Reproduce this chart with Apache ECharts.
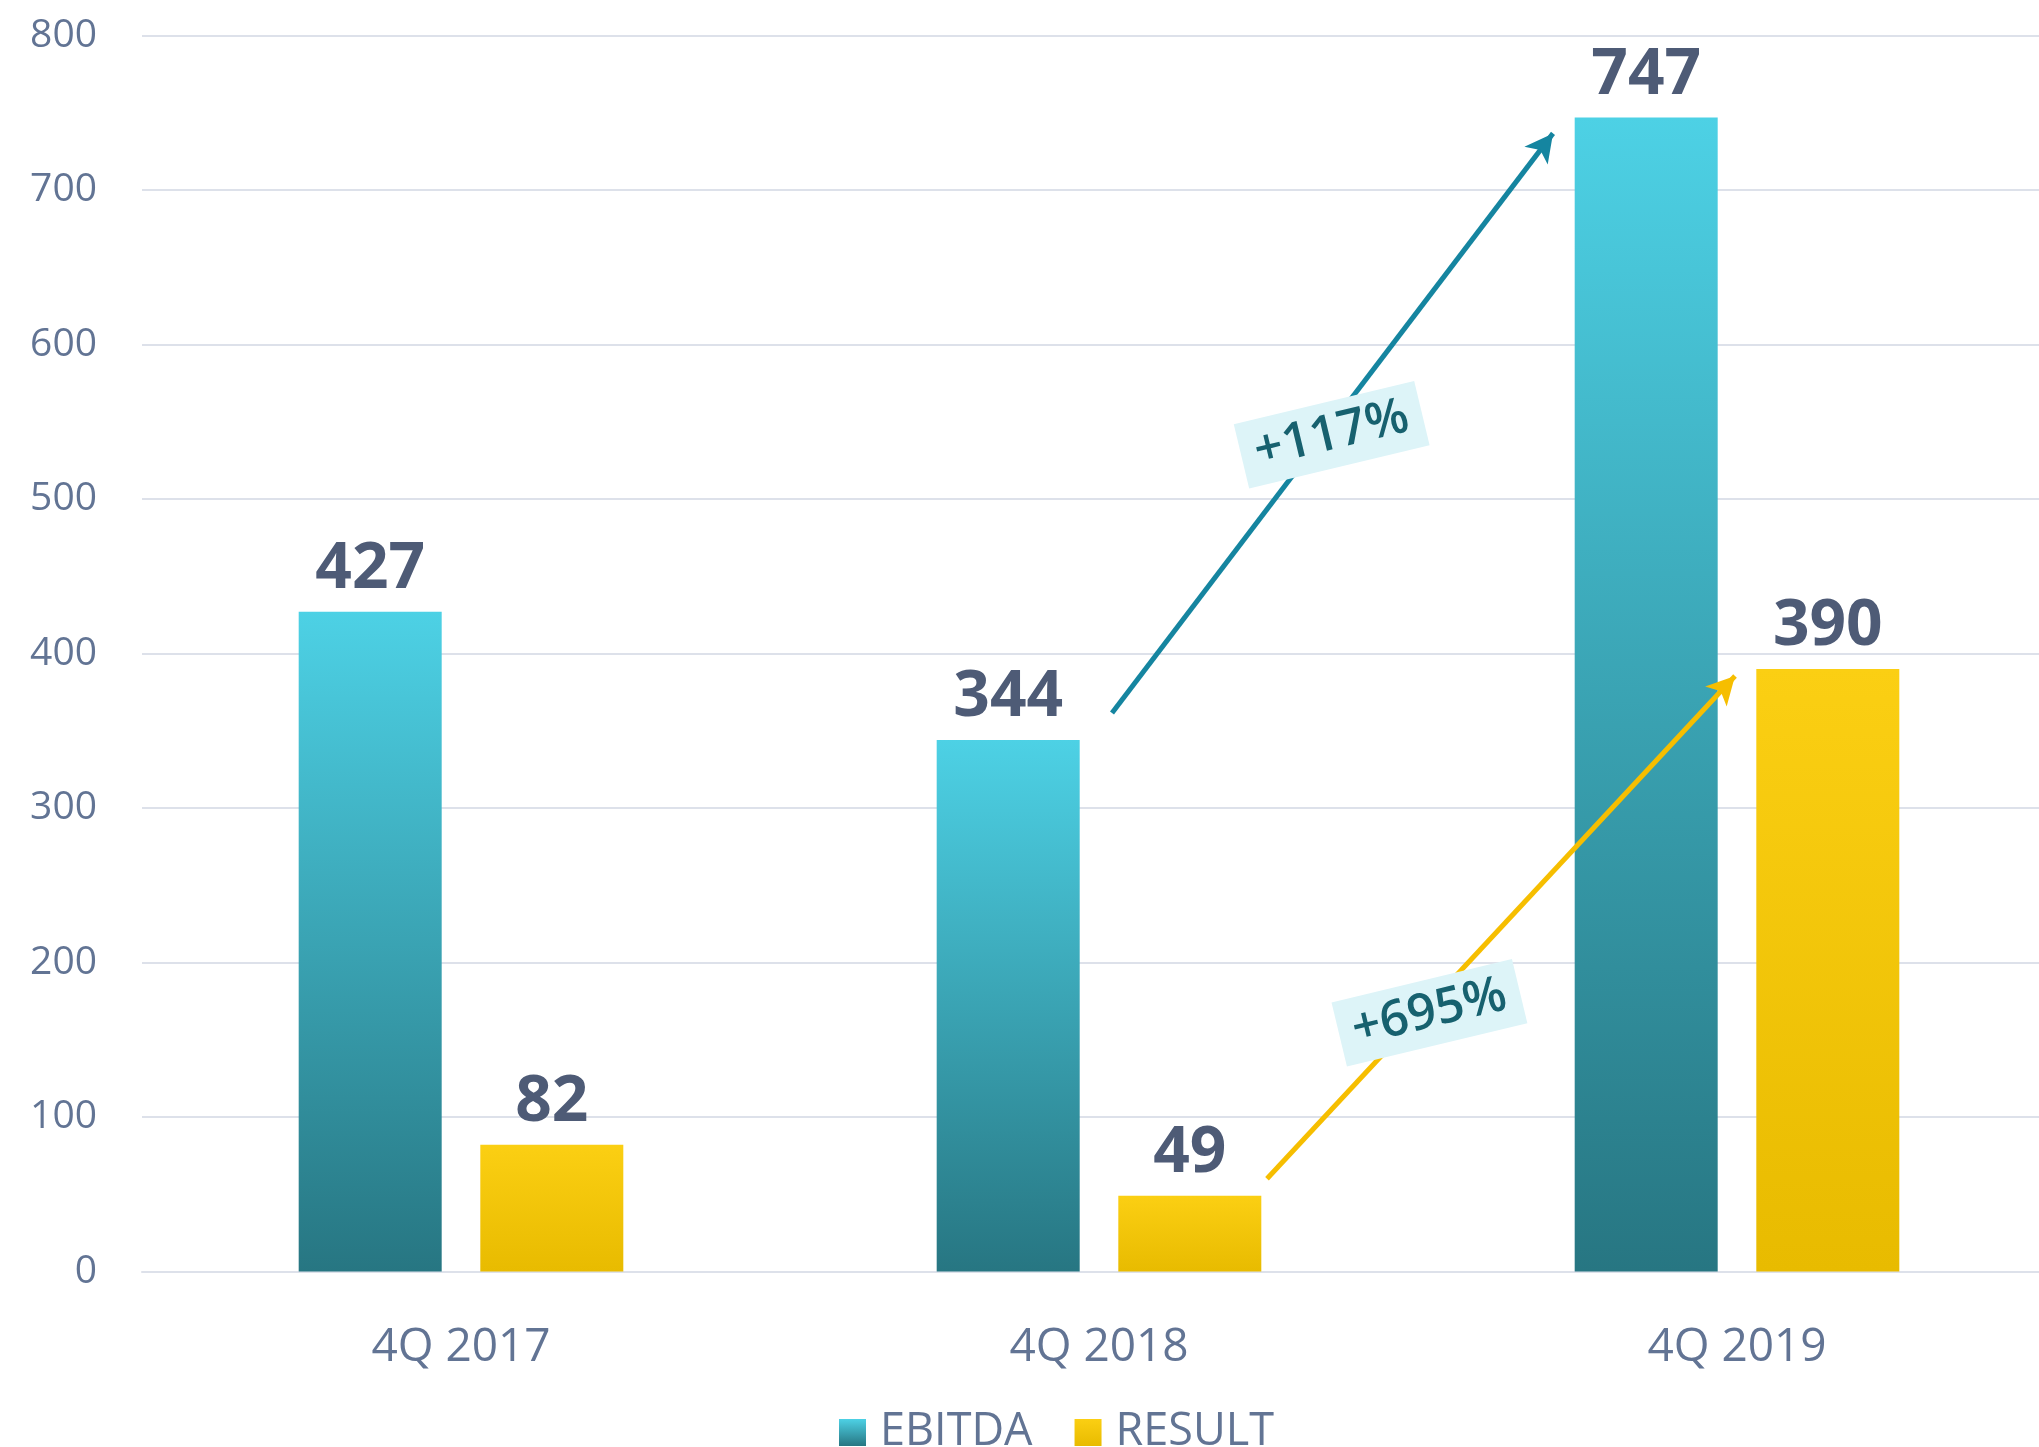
<!DOCTYPE html>
<html lang="en">
<head>
    <meta charset="UTF-8">
    <title>EBITDA / RESULT</title>
    <script src="https://cdn.jsdelivr.net/npm/echarts@6/dist/echarts.min.js"></script>
    <style>
        html, body { margin: 0; padding: 0; background: #fff; }
    </style>
</head>
<body>
<div id="main" style="width: 2039px;height:1447px;"></div>
<script>
    var categories = ['4Q 2017', '4Q 2018', '4Q 2019'];
    var ebitda = [427, 344, 747];
    var result = [82, 49, 390];
    var yTicks = [0, 100, 200, 300, 400, 500, 600, 700, 800];
    // growth arrows: [from category, to category, series name, label]
    var growth = [
        ['4Q 2018', '4Q 2019', 'EBITDA', '+117%'],
        ['4Q 2018', '4Q 2019', 'RESULT', '+695%']
    ];

    var labelColor = '#627494';
    var valueColor = '#4e5b76';
    var font = '"Open Sans", "Noto Sans", sans-serif';

    var myChart = echarts.init(document.getElementById('main'));

    function grad(top, bottom) {
        return new echarts.graphic.LinearGradient(0, 0, 0, 1, [
            {offset: 0, color: top},
            {offset: 1, color: bottom}
        ]);
    }

    var option = {
        animation: false,
        textStyle: {fontFamily: font},
        grid: {left: 142, top: 35.5, width: 1914, height: 1236, outerBoundsMode: 'none'},
        legend: {
            bottom: -13,
            left: 834,
            itemWidth: 27,
            itemHeight: 27,
            itemGap: 42,
            icon: 'rect',
            textStyle: {fontSize: 45, color: labelColor, fontFamily: font, padding: [6, 0, 0, 9]},
            data: ['EBITDA', 'RESULT']
        },
        xAxis: {
            type: 'category',
            data: categories,
            axisTick: {show: false},
            axisLine: {lineStyle: {color: '#dde1ea', width: 2}},
            axisLabel: {fontSize: 46, color: labelColor, margin: 53}
        },
        yAxis: {
            type: 'value',
            min: yTicks[0],
            max: yTicks[yTicks.length - 1],
            interval: 100,
            axisLine: {show: false},
            axisTick: {show: false},
            splitLine: {lineStyle: {color: '#dde1ea', width: 2}},
            axisLabel: {fontSize: 39, color: labelColor, margin: 45}
        },
        series: [
            {
                name: 'EBITDA',
                type: 'bar',
                data: ebitda,
                barWidth: 143,
                barGap: '27%',
                itemStyle: {color: grad('#4dd1e5', '#277682')},
                label: {
                    show: true, position: 'top', distance: 10,
                    fontSize: 64, fontWeight: 'bold', color: valueColor
                }
            },
            {
                name: 'RESULT',
                type: 'bar',
                data: result,
                barWidth: 143,
                itemStyle: {color: grad('#fbcf13', '#e8bb00')},
                label: {
                    show: true, position: 'top', distance: 10,
                    fontSize: 64, fontWeight: 'bold', color: valueColor
                }
            }
        ]
    };

    myChart.setOption(option);

    // place the growth arrows from the bar tops
    var arrowColors = {EBITDA: '#1585a0', RESULT: '#f6be00'};
    var lines = {EBITDA: [], RESULT: []};
    var boxes = [];
    growth.forEach(function (g) {
        var isE = g[2] === 'EBITDA';
        var vals = isE ? ebitda : result;
        var i0 = categories.indexOf(g[0]), i1 = categories.indexOf(g[1]);
        var p0 = myChart.convertToPixel({gridIndex: 0}, [i0, vals[i0]]);
        var p1 = myChart.convertToPixel({gridIndex: 0}, [i1, vals[i1]]);
        var s, e;
        if (isE) {
            s = [p0[0] + 13, p0[1] - 27];
            e = [p1[0] - 184, p1[1] + 16];
        } else {
            s = [p0[0] + 168, p0[1] - 17];
            e = [p1[0] - 2, p1[1] + 7];
        }
        lines[g[2]].push([{x: s[0], y: s[1]}, {x: e[0], y: e[1]}]);
        var t = isE ? 0.48 : 0.33;
        boxes.push({
            type: 'text',
            x: s[0] + (e[0] - s[0]) * t + 8,
            y: s[1] + (e[1] - s[1]) * t,
            rotation: 13.5 * Math.PI / 180,
            z: 100,
            style: {
                text: g[3],
                font: '600 50px ' + font,
                fill: '#17616f',
                align: 'center',
                verticalAlign: 'middle',
                backgroundColor: '#ddf4f8',
                padding: [9, 14, 7, 14]
            }
        });
    });

    myChart.setOption({
        series: [
            {
                name: 'EBITDA',
                markLine: {
                    silent: true,
                    symbol: ['none', 'arrow'],
                    symbolSize: [22, 28],
                    label: {show: false},
                    lineStyle: {color: arrowColors.EBITDA, width: 5, type: 'solid'},
                    data: lines.EBITDA
                }
            },
            {
                name: 'RESULT',
                markLine: {
                    silent: true,
                    symbol: ['none', 'arrow'],
                    symbolSize: [22, 28],
                    label: {show: false},
                    lineStyle: {color: arrowColors.RESULT, width: 5, type: 'solid'},
                    data: lines.RESULT
                }
            }
        ],
        graphic: boxes
    });
</script>
</body>
</html>
